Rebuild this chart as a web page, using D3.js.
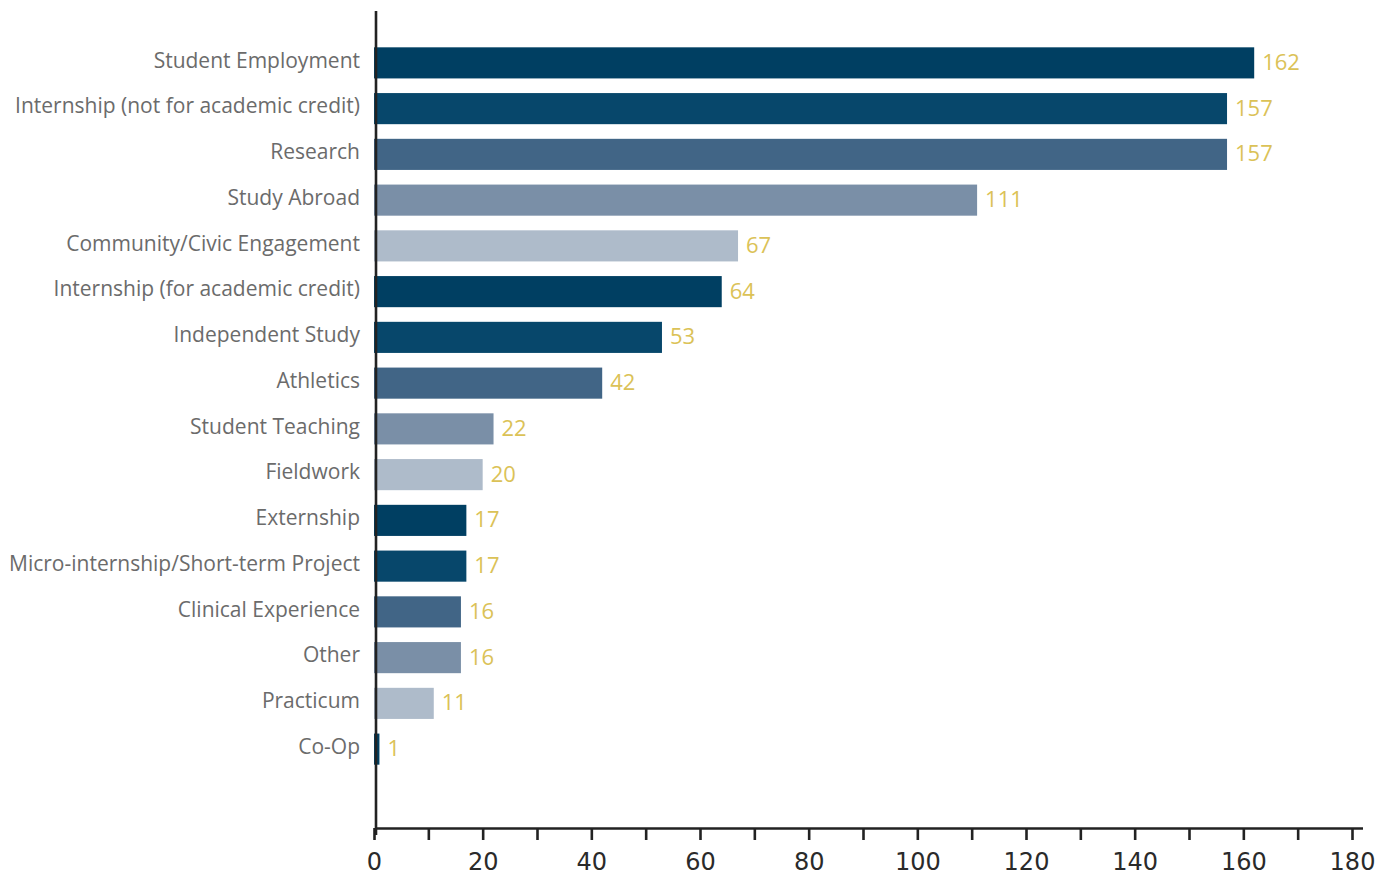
<!DOCTYPE html>
<html>
<head>
<meta charset="utf-8">
<script src="https://cdn.jsdelivr.net/npm/d3@7"></script>
<style>
  body { margin: 0; background: #fff; }
</style>
</head>
<body>
<svg id="chart"></svg>
<script>
const width = 1398, height = 876;

// Experience types, top to bottom
const categories = [
  "Student Employment",
  "Internship (not for academic credit)",
  "Research",
  "Study Abroad",
  "Community/Civic Engagement",
  "Internship (for academic credit)",
  "Independent Study",
  "Athletics",
  "Student Teaching",
  "Fieldwork",
  "Externship",
  "Micro-internship/Short-term Project",
  "Clinical Experience",
  "Other",
  "Practicum",
  "Co-Op"
];
const counts = [162, 157, 157, 111, 67, 64, 53, 42, 22, 20, 17, 17, 16, 16, 11, 1];
const xTicks = [0, 20, 40, 60, 80, 100, 120, 140, 160, 180];
const palette = ["#003f62", "#07476b", "#416586", "#7a8fa7", "#aebbca"];

const svg = d3.select("#chart")
  .attr("width", width)
  .attr("height", height);

const x = d3.scaleLinear()
  .domain([0, 180])
  .range([374, 1352]);

const y = d3.scaleBand()
  .domain(categories)
  .range([40, 772])
  .paddingInner(0.32)
  .paddingOuter(0.16);

// bars
svg.append("g")
  .selectAll("rect")
  .data(categories)
  .enter()
  .append("rect")
  .attr("x", x(0))
  .attr("y", d => y(d))
  .attr("width", (d, i) => x(counts[i]) - x(0))
  .attr("height", y.bandwidth())
  .attr("fill", (d, i) => palette[i % palette.length]);

// value labels
svg.append("g")
  .selectAll("text")
  .data(categories)
  .enter()
  .append("text")
  .attr("x", (d, i) => x(counts[i]) + 8)
  .attr("y", d => y(d) + y.bandwidth() / 2 + 1)
  .attr("dominant-baseline", "middle")
  .style("font-family", "'Open Sans', sans-serif")
  .style("font-size", "22px")
  .style("fill", "#dbc257")
  .text((d, i) => counts[i]);

// category labels
svg.append("g")
  .selectAll("text")
  .data(categories)
  .enter()
  .append("text")
  .attr("x", 360)
  .attr("y", d => y(d) + y.bandwidth() / 2 - 1)
  .attr("text-anchor", "end")
  .attr("dominant-baseline", "middle")
  .style("font-family", "'Open Sans', sans-serif")
  .style("font-size", "21px")
  .style("fill", "#6b6b6b")
  .text(d => d);

// y axis line
svg.append("line")
  .attr("x1", x(0) + 2).attr("x2", x(0) + 2)
  .attr("y1", 11).attr("y2", 835)
  .style("stroke", "#222")
  .style("stroke-width", 2.6);

// x axis
const xAxis = d3.axisBottom(x)
  .tickValues(d3.range(0, 181, 10))
  .tickSize(12)
  .tickSizeOuter(0)
  .tickFormat(d => xTicks.includes(d) ? d : "");

const gx = svg.append("g")
  .attr("transform", "translate(0,828)")
  .call(xAxis);

gx.select(".domain")
  .attr("d", `M${x(0) + 1},0.5H1363`)
  .style("stroke", "#222")
  .style("stroke-width", 2.6);
gx.selectAll(".tick line")
  .style("stroke", "#222")
  .style("stroke-width", 2.6);
gx.selectAll(".tick text")
  .attr("y", 42)
  .attr("dy", 0)
  .style("font-family", "'DejaVu Sans', sans-serif")
  .style("font-size", "24px")
  .style("fill", "#2a2a2a");
</script>
</body>
</html>
